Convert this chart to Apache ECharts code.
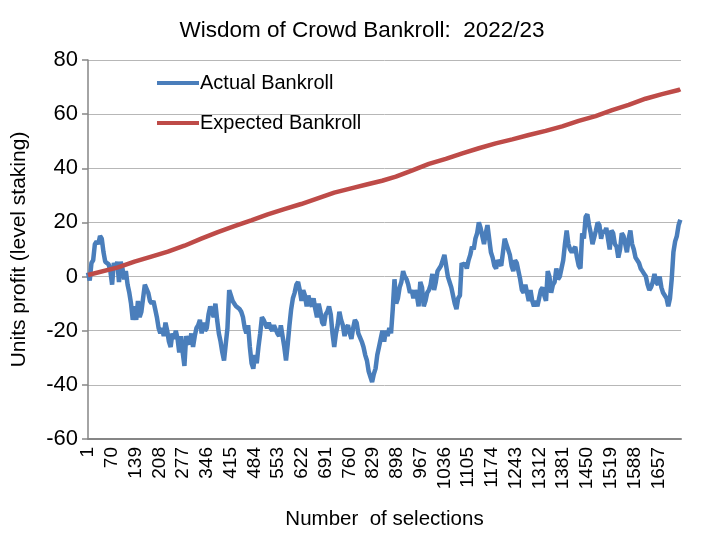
<!DOCTYPE html>
<html>
<head>
    <meta charset="UTF-8">
    <title>Wisdom of Crowd Bankroll</title>
    <style>
        html, body { margin: 0; padding: 0; background: #fff; }
        #chartDom { width: 705px; height: 546px; }
    </style>
</head>
<body>

<script src="https://cdn.jsdelivr.net/npm/echarts@6/dist/echarts.min.js"></script>

<div id="chartDom"></div>

<script type="text/javascript">
    // actual bankroll, read every 5 selections (selection 1, 6, 11, ...)
    var actualStep = 5;
    var actual = [
        1.5, -1.5, 5, 6, 12, 13, 12, 15, 14, 9,
        5.5, 6, 4.5, 2, -3, 5, 3, 5.5, -2, 5.5,
        3, -1, 2, -3, -6, -10, -16, -11, -16, -9,
        -15, -13, -8, -3, -2.5, -6, -9, -10, -9, -12,
        -15, -19, -21, -19, -22, -17, -20, -24, -26, -21,
        -23, -20, -23, -28,
        -22, -28, -33, -22, -24, -25, -21, -26, -22, -19,
        -18, -16, -21, -17, -20, -19, -14, -11, -13, -15,
        -10, -16, -21, -24, -28, -31, -25, -19, -5, -7,
        -9, -9, -11, -11, -12, -13, -15, -19, -21, -18,
        -26, -32, -34, -29, -32, -26, -21, -15, -16, -16,
        -19, -17, -19, -20, -18, -18, -21, -22,
        -18, -22, -26, -31, -25, -18, -12, -8, -6, -3,
        -2, -5, -9, -5, -7, -11, -7, -10, -11, -8,
        -12, -15, -10, -13, -17, -18, -14, -13, -11, -14,
        -21, -26, -21, -18, -13, -16, -18, -22, -19, -18,
        -21, -23, -19, -16, -17, -21, -21, -24, -26, -29,
        -31, -35, -37, -39, -36, -34, -29, -26,
        -23, -20, -24, -20, -22, -19, -21, -12, -1, -10,
        -8, -4, -2, 2, 0, -1, -3, -6, -5, -8,
        -5, -7, -11, -2, -4, -11, -9, -6, -5, -3,
        1, -5, -2, 2, 3, 4, 6, 8, 4, 0,
        -2, -4, -7, -10, -12, -8, -7, 5, 4, 5,
        3, 6, 8, 11, 10, 14, 16, 20,
        18, 15, 12, 16, 19, 14, 9, 7, 4, 3,
        6, 5, 4, 9, 14, 12, 10, 8, 4, 2,
        6, 5, 2, -1, -5, -6, -3, -6, -9, -5,
        -9, -11, -9, -11, -8, -5, -4, -7, -9, 2,
        0, -6, -3, -2, 3, -1, 0, 0, 6, 12,
        17, 12, 10, 9, 9, 11, 7, 4,
        3, 16, 14, 22, 23, 19, 16, 12, 12, 17,
        20, 19, 14, 17, 16, 18, 14, 10, 17, 16,
        12, 11, 7, 10, 16, 15, 12, 9, 14, 17,
        12, 10, 7, 6, 5, 3, 2, 1, 0, -3,
        -5, -4, -2, 1, -2, -3, 0, -4, -6, -7,
        -8, -11, -8, -1, 9, 13, 15, 19, 21
    ];

    // expected bankroll, read at these selection numbers
    var expectedSel = [1, 88, 136, 185, 233, 281, 330, 378, 426, 475, 523, 571, 620, 668,
        716, 765, 813, 855, 895, 943, 991, 1040, 1088, 1136, 1185, 1233, 1281, 1330,
        1378, 1426, 1475, 1523, 1571, 1620, 1668, 1716, 1721];
    var expectedVal = [0.6, 3.4, 5.5, 7.4, 9.2, 11.4, 14.0, 16.4, 18.6, 20.8, 23.0, 24.9, 26.8, 28.9,
        31.0, 32.6, 34.1, 35.4, 36.9, 39.2, 41.6, 43.5, 45.5, 47.4, 49.2, 50.7, 52.3, 53.8,
        55.5, 57.5, 59.3, 61.5, 63.4, 65.7, 67.4, 68.9, 69.2];

    var seriesNames = ['Actual Bankroll', 'Expected Bankroll'];
    var lastSelection = 1722;
    var labelEvery = 69;

    var font = 'Liberation Sans, Arial, sans-serif';

    // x value = selection - 1, so labels read 1, 70, 139 ...
    var actualData = actual.map(function (v, i) { return [i * actualStep, v]; });
    var expectedData = expectedSel.map(function (s, i) { return [s - 1, expectedVal[i]]; });

    var myChart = echarts.init(document.getElementById('chartDom'), null, {renderer: 'canvas'});

    var option = {
        animation: false,
        backgroundColor: '#fff',
        title: {
            text: 'Wisdom of Crowd Bankroll:  2022/23',
            left: 357,
            top: 14,
            textAlign: 'center',
            textStyle: {fontFamily: font, fontSize: 22.5, fontWeight: 'normal', color: '#000'}
        },
        legend: {
            orient: 'vertical',
            left: 152,
            top: 68,
            itemWidth: 42,
            itemHeight: 4,
            itemGap: 20,
            icon: 'rect',
            data: seriesNames,
            textStyle: {fontFamily: font, fontSize: 20, color: '#000', padding: [0, 0, 0, -4]}
        },
        grid: {left: 88, right: 24, top: 60, bottom: 107, containLabel: false},
        xAxis: [{
            type: 'value',
            min: 0,
            max: lastSelection,
            interval: labelEvery,
            axisLine: {show: false},
            axisTick: {show: false},
            splitLine: {show: false},
            axisLabel: {
                rotate: 90,
                margin: 8,
                showMaxLabel: false,
                fontFamily: font,
                fontSize: 19,
                color: '#000',
                formatter: function (v) { return String(v + 1); }
            },
            name: 'Number  of selections',
            nameLocation: 'middle',
            nameGap: 70,
            nameTextStyle: {fontFamily: font, fontSize: 20.5, color: '#000'}
        }, {
            // zero line
            type: 'value',
            min: 0,
            max: lastSelection,
            position: 'bottom',
            axisLine: {show: true, onZero: true, lineStyle: {color: '#868686', width: 2}},
            axisTick: {show: false},
            axisLabel: {show: false},
            splitLine: {show: false}
        }],
        yAxis: {
            type: 'value',
            min: -60,
            max: 80,
            interval: 20,
            axisLine: {show: true, lineStyle: {color: '#868686', width: 1.5}},
            axisTick: {show: true, inside: false, length: 6, lineStyle: {color: '#868686', width: 1.5}},
            splitLine: {show: true, lineStyle: {color: '#b7b7b7', width: 1}},
            axisLabel: {fontFamily: font, fontSize: 22, color: '#000', margin: 10},
            name: 'Units profit (level staking)',
            nameLocation: 'middle',
            nameGap: 58,
            nameTextStyle: {fontFamily: font, fontSize: 21, color: '#000'}
        },
        series: [{
            name: seriesNames[0],
            type: 'line',
            xAxisIndex: 0,
            data: actualData,
            showSymbol: false,
            color: '#4a7ebb',
            lineStyle: {width: 4.5, color: '#4a7ebb'}
        }, {
            name: seriesNames[1],
            type: 'line',
            xAxisIndex: 0,
            data: expectedData,
            showSymbol: false,
            color: '#be4b48',
            lineStyle: {width: 4.5, color: '#be4b48'}
        }]
    };

    myChart.setOption(option);
</script>
</body>
</html>
